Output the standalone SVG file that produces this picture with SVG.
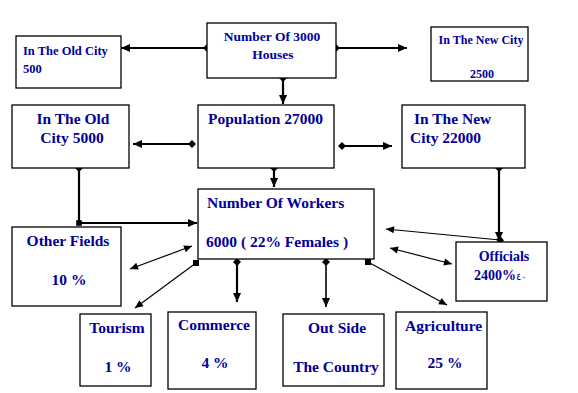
<svg xmlns="http://www.w3.org/2000/svg" width="578" height="393" viewBox="0 0 578 393">
<style>
.box{fill:#fff;stroke:#000;stroke-width:1.3}
text{font-family:"Liberation Serif","DejaVu Serif",serif;font-weight:bold;fill:#000099;font-size:15.5px}
.sm{font-size:12px}
.md{font-size:13.5px}
.thick{fill:none;stroke:#000;stroke-width:2.2}
.mid{fill:none;stroke:#000;stroke-width:1.6}
.thin{fill:none;stroke:#000;stroke-width:1.2}
</style>
<defs>
<marker id="arr" viewBox="0 0 10 10" refX="10" refY="5" markerWidth="10" markerHeight="9" markerUnits="userSpaceOnUse" orient="auto-start-reverse"><path d="M0,0.5 L10,5 L0,9.5 z"/></marker>
<marker id="arrs" viewBox="0 0 10 10" refX="10" refY="5" markerWidth="9" markerHeight="8" markerUnits="userSpaceOnUse" orient="auto-start-reverse"><path d="M0,0.5 L10,5 L0,9.5 z"/></marker>
<marker id="dia" viewBox="0 0 10 10" refX="5" refY="5" markerWidth="8" markerHeight="8" markerUnits="userSpaceOnUse" orient="auto"><path d="M5,0 L10,5 L5,10 L0,5 z"/></marker>
<marker id="dot" viewBox="0 0 10 10" refX="5" refY="5" markerWidth="6" markerHeight="6" markerUnits="userSpaceOnUse"><rect x="0" y="0" width="10" height="10"/></marker>
<clipPath id="agc"><rect x="396" y="312" width="88" height="77"/></clipPath>
</defs>
<rect width="578" height="393" fill="#fff"/>

<g id="connectors">
<path class="thick" d="M207,48 L121,48" marker-start="url(#dia)" marker-end="url(#arr)"/>
<path class="thick" d="M336,48 L407,48" marker-start="url(#dia)" marker-end="url(#arr)"/>
<path class="thick" d="M283,78 L283,104" marker-start="url(#dia)" marker-end="url(#arr)"/>
<path class="thick" d="M192,144 L133,144" marker-start="url(#dia)" marker-end="url(#arr)"/>
<path class="thick" d="M342,146 L392,146" marker-start="url(#dia)" marker-end="url(#arr)"/>
<path class="thick" d="M274,168 L274,187" marker-start="url(#dia)" marker-end="url(#arr)"/>
<path class="thick" d="M79,168 L79,223 L197,223" marker-start="url(#dia)" marker-mid="url(#dia)" marker-end="url(#arr)"/>
<path class="thick" d="M499,168 L499,241" marker-start="url(#dia)" marker-end="url(#arr)"/>
<path class="thin" d="M500,240 L386,229" marker-start="url(#dia)" marker-end="url(#arrs)"/>
<path class="thin" d="M390,248 L452,264" marker-start="url(#arrs)" marker-end="url(#arrs)"/>
<path class="thin" d="M192,246 L130,269" marker-start="url(#arrs)" marker-end="url(#arrs)"/>
<path class="thin" d="M196,263 L135,308" marker-start="url(#dot)" marker-end="url(#arrs)"/>
<path class="thick" d="M237,262 L237,302" marker-start="url(#dia)" marker-end="url(#arr)"/>
<path class="mid" d="M326,262 L326,307" marker-start="url(#dia)" marker-end="url(#arr)"/>
<path class="thin" d="M368,262 L447,305" marker-start="url(#dot)" marker-end="url(#arrs)"/>
</g>

<g id="old-city-500">
<rect class="box" x="16" y="36" width="105" height="52"/>
<text class="sm" x="23" y="55" style="font-size:12.5px">In The Old City</text>
<text class="sm" x="23" y="73" style="font-size:12.5px">500</text>
</g>
<g id="houses">
<rect class="box" x="207" y="23" width="129" height="55"/>
<text class="md" x="272" y="41" text-anchor="middle">Number Of 3000</text>
<text class="md" x="273" y="59" text-anchor="middle">Houses</text>
</g>
<g id="new-city-2500">
<rect class="box" x="431" y="27" width="97" height="54"/>
<text class="sm" x="481" y="44" text-anchor="middle">In The New City</text>
<text class="sm" x="482" y="78" text-anchor="middle">2500</text>
</g>
<g id="old-city-5000">
<rect class="box" x="12" y="105" width="117" height="63"/>
<text x="73" y="124" text-anchor="middle">In The Old</text>
<text x="72" y="143" text-anchor="middle">City 5000</text>
</g>
<g id="population">
<rect class="box" x="198" y="105" width="136" height="63"/>
<text x="208" y="124">Population 27000</text>
</g>
<g id="new-city-22000">
<rect class="box" x="402" y="105" width="123" height="63"/>
<text x="414" y="124">In The New</text>
<text x="410" y="143">City 22000</text>
</g>
<g id="workers">
<rect class="box" x="198" y="189" width="176" height="70"/>
<text x="207" y="208">Number Of Workers</text>
<text x="206" y="247">6000 ( 22% Females )</text>
</g>
<g id="other-fields">
<rect class="box" x="12" y="227" width="109" height="79"/>
<text x="68" y="246" text-anchor="middle">Other Fields</text>
<text x="69" y="285" text-anchor="middle">10 %</text>
</g>
<g id="officials">
<rect class="box" x="456" y="242" width="91" height="59"/>
<text x="504" y="261" text-anchor="middle" style="font-size:14px">Officials</text>
<text x="474" y="280" style="font-size:14px">2400%<tspan style="font-family:'DejaVu Sans',sans-serif;font-size:10px;font-weight:normal">٤٠</tspan></text>
</g>
<g id="tourism">
<rect class="box" x="80" y="314" width="71" height="72"/>
<text x="117" y="333" text-anchor="middle">Tourism</text>
<text x="118" y="372" text-anchor="middle">1 %</text>
</g>
<g id="commerce">
<rect class="box" x="168" y="312" width="88" height="77"/>
<text x="214" y="330" text-anchor="middle">Commerce</text>
<text x="215" y="368" text-anchor="middle">4 %</text>
</g>
<g id="outside">
<rect class="box" x="283" y="314" width="101" height="72"/>
<text x="337" y="333" text-anchor="middle">Out Side</text>
<text x="336" y="372" text-anchor="middle">The Country</text>
</g>
<g id="agriculture">
<rect class="box" x="396" y="312" width="91" height="77"/>
<text x="405" y="331" clip-path="url(#agc)">Agriculture</text>
<text x="445" y="368" text-anchor="middle">25 %</text>
</g>
</svg>
